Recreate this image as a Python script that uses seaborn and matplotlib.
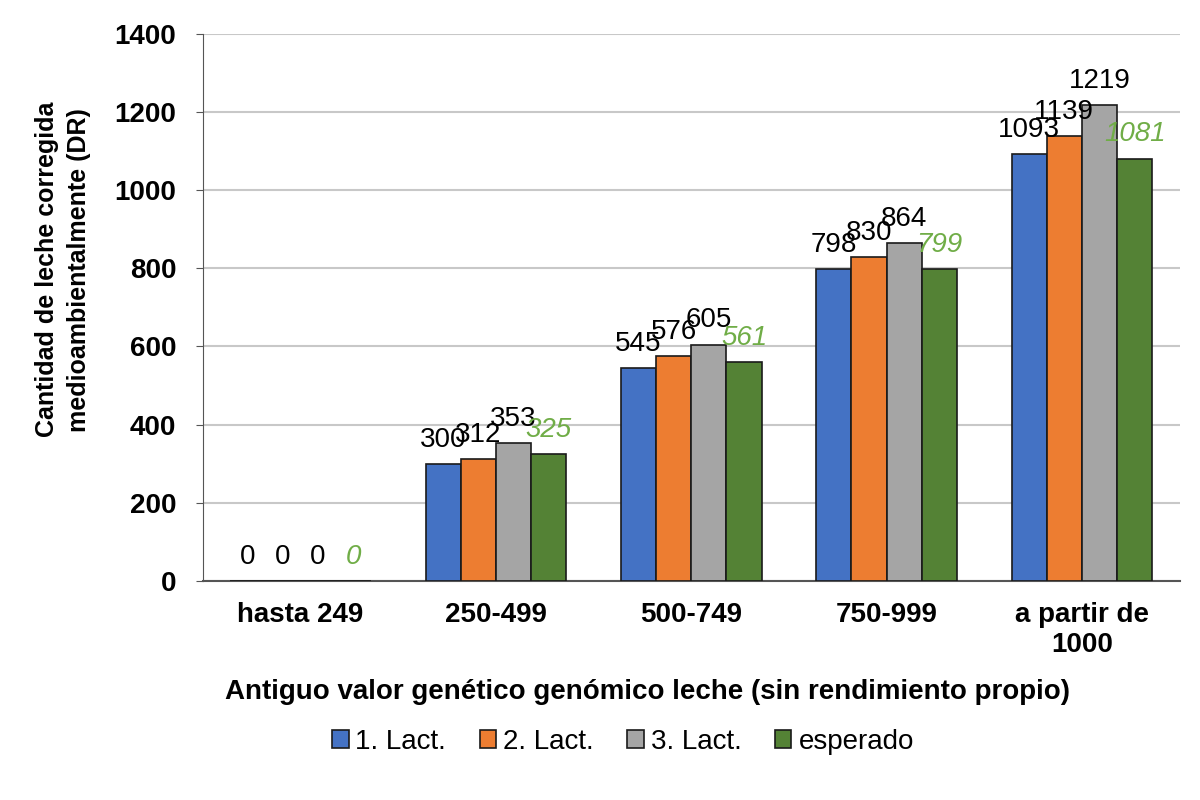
import matplotlib
matplotlib.use("Agg")
import matplotlib.pyplot as plt
import seaborn as sns
import pandas as pd

categories = ["hasta 249", "250-499", "500-749", "750-999", "a partir de\n1000"]
series_names = ["1. Lact.", "2. Lact.", "3. Lact.", "esperado"]
lact1 = [0, 300, 545, 798, 1093]
lact2 = [0, 312, 576, 830, 1139]
lact3 = [0, 353, 605, 864, 1219]
esperado = [0, 325, 561, 799, 1081]
colors = ["#4472C4", "#ED7D31", "#A5A5A5", "#548235"]

rows = []
for name, vals in zip(series_names, [lact1, lact2, lact3, esperado]):
    for c, v in zip(categories, vals):
        rows.append({"cat": c, "serie": name, "valor": v})
df = pd.DataFrame(rows)

sns.set_style("white")
plt.rcParams["font.family"] = ["Liberation Sans", "DejaVu Sans"]
plt.rcParams["text.color"] = "black"
plt.rcParams["axes.labelcolor"] = "black"
plt.rcParams["xtick.color"] = "black"
plt.rcParams["ytick.color"] = "black"

fig = plt.figure(figsize=(12, 8), dpi=100)
ax = fig.add_axes([0.169, 0.274, 0.814, 0.6835])

sns.barplot(data=df, x="cat", y="valor", hue="serie", order=categories,
            hue_order=series_names, palette=colors, saturation=1, width=0.72,
            edgecolor="#1a1a1a", linewidth=1.2, ax=ax, legend=True, zorder=3)

ax.set_ylim(0, 1400)
ax.set_yticks(range(0, 1401, 200))
ax.yaxis.grid(True, color="#c8c8c8", linewidth=1.5, zorder=0)
ax.set_axisbelow(True)
for s in ["top", "right"]:
    ax.spines[s].set_visible(False)
ax.spines["left"].set_color("#555555")
ax.spines["bottom"].set_color("#555555")
ax.spines["bottom"].set_linewidth(1.5)
ax.tick_params(axis="y", left=True, length=5, color="#555555", labelsize=20, pad=14)
ax.tick_params(axis="x", bottom=False, labelsize=20, pad=12)
for lbl in ax.get_yticklabels() + ax.get_xticklabels():
    lbl.set_fontweight("bold")

ax.set_ylabel("Cantidad de leche corregida\nmedioambientalmente (DR)", fontsize=18,
              fontweight="bold", linespacing=1.4)
ax.yaxis.set_label_coords(-0.143, 0.569)
ax.yaxis.label.set_verticalalignment("center")

ax.set_xlabel("Antiguo valor genético genómico leche (sin rendimiento propio)",
              fontsize=20, fontweight="bold")
ax.xaxis.set_label_coords(0.455, -0.203)
ax.xaxis.label.set_verticalalignment("center")

for i, cont in enumerate(ax.containers):
    if i < 3:
        ax.bar_label(cont, fmt="%d", padding=8, fontsize=20, color="black")
    else:
        ax.bar_label(cont, fmt="%d", padding=8, fontsize=20, color="#70AD47", fontstyle="italic")

leg = ax.legend(loc="center", bbox_to_anchor=(0.43, -0.294), ncol=4, frameon=False,
                fontsize=20, handlelength=0.6, handleheight=0.6, handletextpad=0.25,
                columnspacing=1.2, borderaxespad=0, borderpad=0)
for h in leg.legend_handles:
    h.set_edgecolor("#1a1a1a")

fig.savefig("out.png", dpi=100)
